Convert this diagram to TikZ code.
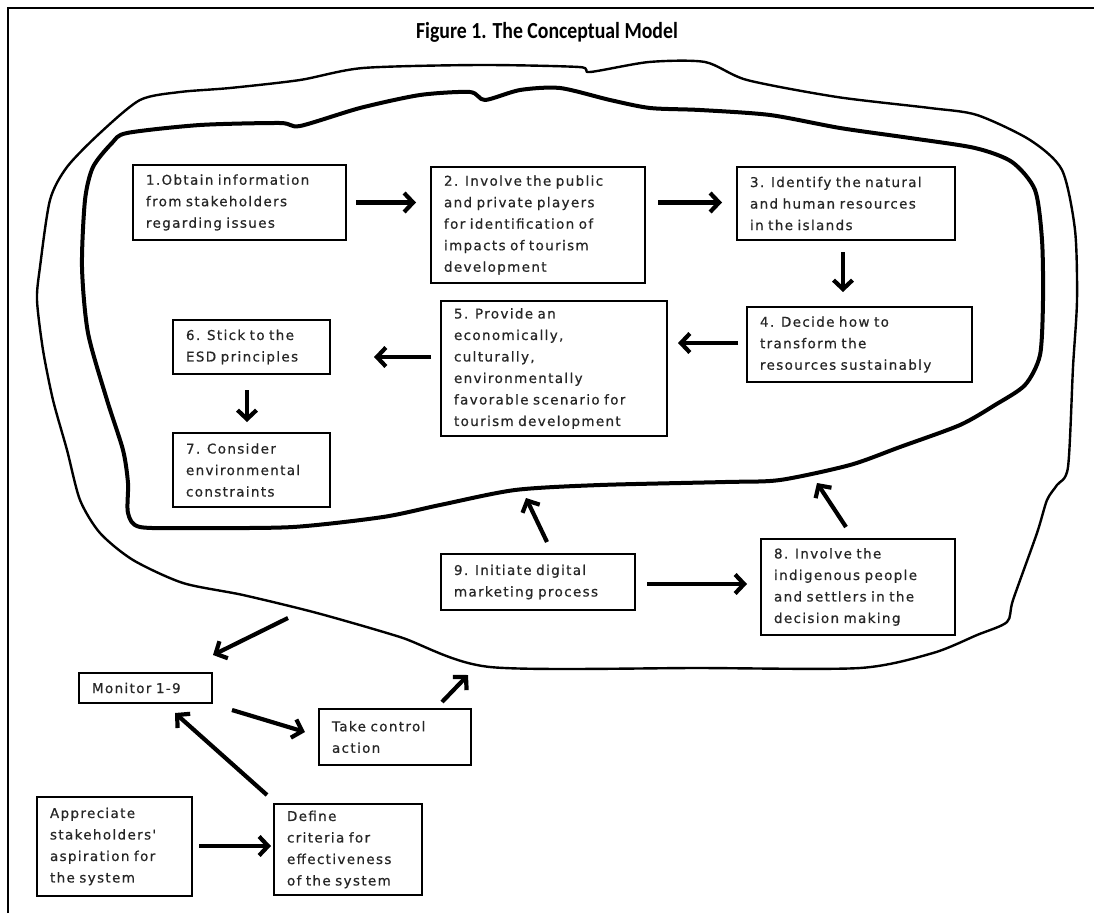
\documentclass[tikz,border=0pt]{standalone}
\usepackage{fontspec}
\usetikzlibrary{arrows.meta}
\newfontfamily\boxfont[LetterSpace=10,FakeBold=0.6]{DejaVu Sans}
\newfontfamily\titlefont[FakeStretch=0.86]{Carlito}
\newcommand\mybox[6]{%
  \pgfmathsetmacro\bw{#4-#2}\pgfmathsetmacro\bh{#5-#3}\pgfmathsetmacro\btw{#4-#2-26}%
  \node[box, minimum width=\bw pt, minimum height=\bh pt, text width=\btw pt] (#1) at ({(#2+#4)/2},{(#3+#5)/2}) {#6};}
\begin{document}
\begin{tikzpicture}[x=1pt,y=-1pt,
  box/.style={draw, line width=1.6pt, inner xsep=13pt, inner ysep=0pt, outer sep=0pt, align=left,
     font=\boxfont\fontsize{13.5}{21.5}\selectfont, text=black!85},
  arr/.style={line width=4.2pt, -{Straight Barb[length=9pt,width=19pt]}},
  outerloop/.style={line width=2.4pt, line join=round},
  innerloop/.style={line width=4pt, line join=round}]
\useasboundingbox (0,0) rectangle (1094,913);
\fill[white] (0,0) rectangle (1094,913);
% frame
\draw[line width=1.8pt] (8,913) -- (8,8) -- (1094,8);
\node (title) at (547,32) {\titlefont\bfseries\fontsize{23}{27}\selectfont Figure 1. The Conceptual Model};
% outer loop
\draw[outerloop] plot[smooth cycle, tension=0.45] coordinates {
 (140,100) (180,92) (230,88) (300,80) (363,68) (480,65) (579,67) (590,72) (649,62) (705,62)
 (747,80) (837,97) (930,108) (977,115) (1030,140) (1062,170) (1075,230) (1077,300) (1073,367)
 (1068,467) (1057,485) (1047,500) (1037,533) (1013,600) (1007,622) (977,635) (933,653) (860,668)
 (700,668) (490,667) (400,637) (317,613) (243,595) (183,583) (133,560) (100,533) (80,500)
 (67,450) (53,400) (43,350) (37,300) (40,267) (50,200) (67,167) (100,133)};
% inner loop
\draw[innerloop] plot[smooth cycle, tension=0.45] coordinates {
 (127,133) (200,125) (280,123) (300,126) (360,108) (420,95) (470,92) (485,100) (520,90) (560,88)
 (610,100) (650,108) (700,110) (770,115) (840,128) (910,138) (975,148) (1012,162) (1035,190)
 (1042,240) (1043,300) (1040,355) (1025,385) (995,405) (960,425) (900,447) (850,465) (780,480)
 (725,482) (600,485) (515,490) (440,505) (383,517) (293,527) (200,528) (140,527) (128,513)
 (128,483) (123,450) (107,400) (88,333) (82,267) (85,200) (93,167) (112,143)};
% boxes
\mybox{b1}{133}{165}{346}{240}{1.Obtain information\\from stakeholders\\regarding issues}
\mybox{b2}{431}{167}{645}{283}{2. Involve the public\\and private players\\for identification of\\impacts of tourism\\development}
\mybox{b3}{737}{167}{955}{240}{3. Identify the natural\\and human resources\\in the islands}
\mybox{b4}{747}{307}{972}{382}{4. Decide how to\\transform the\\resources sustainably}
\mybox{b5}{441}{301}{667}{436}{5. Provide an\\economically,\\culturally,\\environmentally\\favorable scenario for\\tourism development}
\mybox{b6}{173}{320}{330}{374}{6. Stick to the\\ESD principles}
\mybox{b7}{173}{433}{330}{507}{7. Consider\\environmental\\constraints}
\mybox{b9}{441}{554}{635}{610}{9. Initiate digital\\marketing process}
\mybox{b8}{761}{539}{955}{635}{8. Involve the\\indigenous people\\and settlers in the\\decision making}
\mybox{bm}{79}{673}{212}{703}{Monitor 1-9}
\mybox{bt}{319}{709}{471}{765}{Take control\\action}
\mybox{ba}{37}{797}{192}{896}{Appreciate\\stakeholders'\\aspiration for\\the system}
\mybox{bd}{274}{804}{422}{895}{Define\\criteria for\\effectiveness\\of the system}
% free ends
\coordinate (mstart) at (288,618);
\coordinate (tend) at (468,675);
% arrows
\draw[arr] ([xshift=10pt]b1.east) -- ([xshift=-15pt]b2.west |- b1.east);
\draw[arr] ([xshift=13pt]b2.east |- b1.east) -- ([xshift=-15pt]b3.west |- b1.east);
\draw[arr] ([yshift=-12pt]b3.south -| 843,0) -- ([yshift=15pt]b4.north -| 843,0);
\draw[arr] ([xshift=-9pt]b4.west |- 0,343) -- ([xshift=11pt]b5.east |- 0,343);
\draw[arr] ([xshift=-10pt]b5.west |- 0,357) -- ([xshift=44pt]b6.east |- 0,357);
\draw[arr] ([yshift=-16pt]b6.south -| 247,0) -- ([yshift=11pt]b7.north -| 247,0);
\draw[arr] ([yshift=12pt]b9.north -| 547,0) -- (526,498);
\draw[arr] ([xshift=12pt]b9.east |- 0,584) -- ([xshift=-14pt]b8.west |- 0,584);
\draw[arr] ([yshift=12pt]b8.north -| 846,0) -- (817,483);
\draw[arr] (mstart) -- ([xshift=1pt,yshift=18pt]bm.north east);
\draw[arr] ([xshift=20pt,yshift=-7pt]bm.south east) -- ([xshift=-14pt,yshift=-23pt]bt.north west);
\draw[arr] ([xshift=-29pt,yshift=7pt]bt.north east) -- (tend);
\draw[arr] ([xshift=-7pt,yshift=9pt]bd.north west) -- ([xshift=-37pt,yshift=-10pt]bm.south east);
\draw[arr] ([xshift=7pt]ba.east |- 0,846) -- ([xshift=-3pt]bd.west |- 0,846);
\end{tikzpicture}
\end{document}
